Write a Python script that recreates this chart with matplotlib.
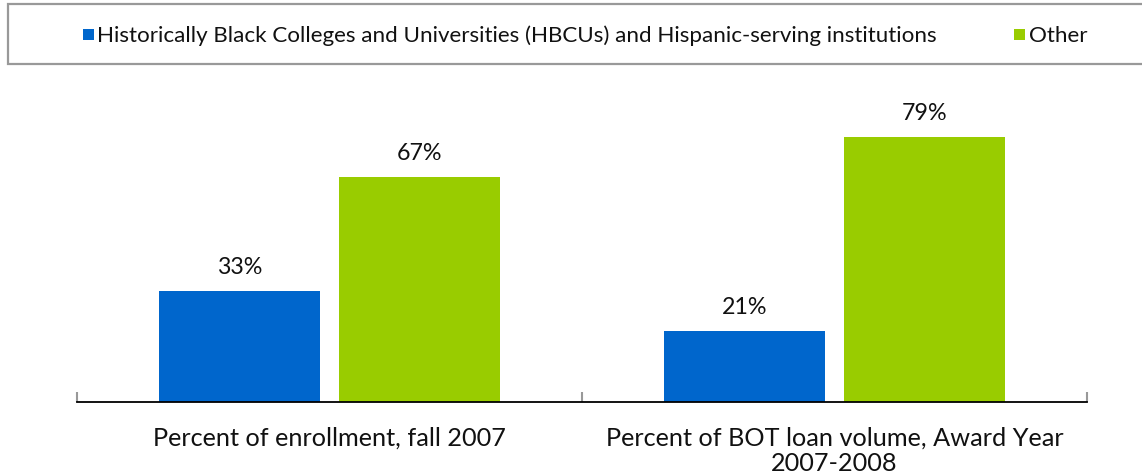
import matplotlib
matplotlib.use("Agg")
import matplotlib.pyplot as plt
from matplotlib.patches import Rectangle
import numpy as np

categories = ["Percent of enrollment, fall 2007", "Percent of BOT loan volume, Award Year\n2007-2008"]
series_names = ["Historically Black Colleges and Universities (HBCUs) and Hispanic-serving institutions", "Other"]
hbcu = [33, 21]
other = [67, 79]
colors = ["#0066CC", "#99CC00"]

plt.rcParams['font.family'] = ['Lato', 'DejaVu Sans']

W, H = 1142, 477
fig = plt.figure(figsize=(W/100, H/100), dpi=100)
left, right, base = 77, 1087, 403
ymax = 90
scale = 3.36
top = base - ymax*scale
axh = base - top
ax = fig.add_axes([left/W, 1-base/H, (right-left)/W, axh/H])

x = np.arange(len(categories))
bw = 0.32
gap = 0.036
b1 = ax.bar(x - (bw+gap)/2, hbcu, bw, color=colors[0])
b2 = ax.bar(x + (bw+gap)/2, other, bw, color=colors[1])
value_texts = []
for bars, vals in ((b1, hbcu), (b2, other)):
    for r, v in zip(bars, vals):
        value_texts.append(ax.text(r.get_x()+r.get_width()/2, v + 18/scale, f"{v}%", ha='center',
                                   va='baseline', fontsize=17, color='#111111'))

ax.set_xlim(-0.5, len(categories)-0.5)
ax.set_ylim(0, ymax)
for s in ['top', 'right', 'left']:
    ax.spines[s].set_visible(False)
ax.spines['bottom'].set_color('black')
ax.spines['bottom'].set_linewidth(1.3)
ax.set_yticks([])
ax.set_xticks([-0.5, 0.5, 1.5], minor=False)
ax.set_xticklabels([])
ax.tick_params(axis='x', direction='in', length=7, color='#999999', width=1.5)
cat_texts = []
for xi, c in zip(x, categories):
    for j, line in enumerate(c.split("\n")):
        cat_texts.append(ax.text(xi, -(43 + 25*j)/axh, line, transform=ax.get_xaxis_transform(),
                                 ha='center', va='baseline', fontsize=17, color='#111111'))

# legend frame
fig.patches.append(Rectangle((8/W, 1-65/H), 1.2, 60/H, transform=fig.transFigure,
                             facecolor='white', edgecolor='#999999', linewidth=1.6, zorder=0))
ly = 1-42/H
fig.patches.append(Rectangle((83/W, 1-41/H), 11/W, 11/H, transform=fig.transFigure, facecolor=colors[0], edgecolor='none'))
leg1 = fig.text(97/W, ly, series_names[0], ha='left', va='baseline', fontsize=16, color='#111111')
fig.patches.append(Rectangle((1014/W, 1-41/H), 11/W, 11/H, transform=fig.transFigure, facecolor=colors[1], edgecolor='none'))
leg2 = fig.text(1029/W, ly, series_names[1], ha='left', va='baseline', fontsize=16, color='#111111')

# match text widths measured on the reference (pixels)
fig.canvas.draw()
rend = fig.canvas.get_renderer()
def fit(t, target):
    w = t.get_window_extent(rend).width
    t.set_fontsize(t.get_fontsize() * target / w)

fit(leg1, 843)
leg2.set_fontsize(leg1.get_fontsize())
fit(cat_texts[0], 353)
for t in cat_texts[1:]:
    t.set_fontsize(cat_texts[0].get_fontsize())
fit(value_texts[0], 46)
for t in value_texts[1:]:
    t.set_fontsize(value_texts[0].get_fontsize())

fig.savefig("out.png", dpi=100)
